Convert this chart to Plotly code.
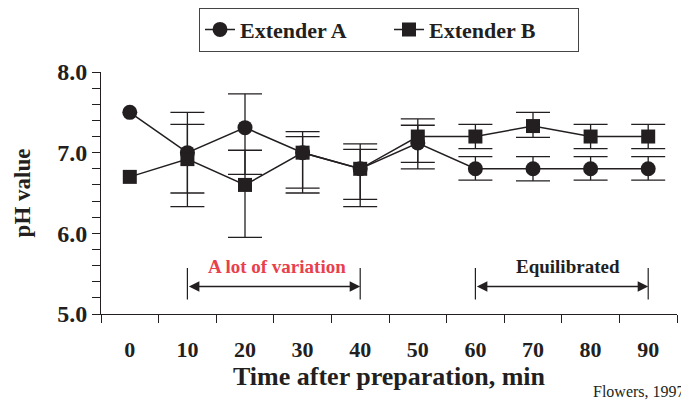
import plotly.graph_objects as go

times = ["0", "10", "20", "30", "40", "50", "60", "70", "80", "90"]

ext_a = [7.5, 7.0, 7.31, 7.0, 6.8, 7.12, 6.8, 6.8, 6.8, 6.8]
ext_a_err_plus = [None, 0.5, 0.42, 0.26, 0.31, 0.22, 0.15, 0.15, 0.15, 0.15]
ext_a_err_minus = [None, 0.5, 0.58, 0.44, 0.38, 0.32, 0.14, 0.15, 0.14, 0.14]

ext_b = [6.7, 6.92, 6.6, 7.0, 6.8, 7.2, 7.2, 7.33, 7.2, 7.2]
ext_b_err_plus = [None, 0.43, 0.43, 0.2, 0.24, 0.22, 0.15, 0.17, 0.15, 0.15]
ext_b_err_minus = [None, 0.59, 0.65, 0.5, 0.47, 0.32, 0.15, 0.14, 0.15, 0.15]

y_tickvals = [5.0, 5.2, 5.4, 5.6, 5.8, 6.0, 6.2, 6.4, 6.6, 6.8, 7.0, 7.2, 7.4, 7.6,
              7.8, 8.0]
y_ticktext = ["5.0", "", "", "", "", "6.0", "", "", "", "", "7.0", "", "", "", "", "8.0"]

INK = "#231f20"
FONT = "Liberation Serif"

fig = go.Figure()


def err_trace(vals, plus, minus):
    idx = [i for i, p in enumerate(plus) if p is not None]
    return go.Scatter(
        x=[times[i] for i in idx],
        y=[vals[i] for i in idx],
        mode="markers",
        marker=dict(size=1, opacity=0),
        showlegend=False,
        hoverinfo="skip",
        error_y=dict(
            type="data",
            symmetric=False,
            array=[plus[i] for i in idx],
            arrayminus=[minus[i] for i in idx],
            color=INK,
            thickness=1.3,
            width=17,
        ),
    )


fig.add_trace(err_trace(ext_a, ext_a_err_plus, ext_a_err_minus))
fig.add_trace(err_trace(ext_b, ext_b_err_plus, ext_b_err_minus))

fig.add_trace(go.Scatter(
    x=times, y=ext_a, name="Extender A", mode="lines+markers",
    line=dict(color=INK, width=1.5),
    marker=dict(symbol="circle", size=15, color=INK),
))
fig.add_trace(go.Scatter(
    x=times, y=ext_b, name="Extender B", mode="lines+markers",
    line=dict(color=INK, width=1.5),
    marker=dict(symbol="square", size=14, color=INK),
))

# bracket arrows
for x0, x1 in [(1, 4), (6, 9)]:
    for xv in (x0, x1):
        fig.add_shape(type="line", xref="x", yref="y", x0=xv, x1=xv, y0=5.18, y1=5.57,
                      line=dict(color=INK, width=1.2))
    fig.add_annotation(x=x1, y=5.34, ax=x0, ay=5.34, xref="x", yref="y",
                       axref="x", ayref="y", text="", showarrow=True,
                       arrowside="end+start", arrowhead=2, arrowsize=1.4,
                       arrowwidth=1.5, arrowcolor=INK, standoff=0, startstandoff=0)

fig.add_annotation(x=2.55, y=5.59, xref="x", yref="y", text="A lot of variation",
                   showarrow=False,
                   font=dict(family=FONT, size=19, color="#e8404c", weight="bold"))
fig.add_annotation(x=7.6, y=5.59, xref="x", yref="y", text="Equilibrated",
                   showarrow=False,
                   font=dict(family=FONT, size=19, color=INK, weight="bold"))
fig.add_annotation(x=1.0174, y=-0.321, xref="paper", yref="paper", text="Flowers, 1997",
                   showarrow=False, xanchor="right", yanchor="middle",
                   font=dict(family=FONT, size=16, color=INK))

# page body adds an 8px offset; size the figure to sit inside the window
fig.update_layout(
    width=681, height=393,
    margin=dict(l=93, r=12, t=64, b=87, autoexpand=False),
    paper_bgcolor="white", plot_bgcolor="white",
    font=dict(family=FONT, color=INK),
    showlegend=True,
    legend=dict(
        orientation="h", x=0.5, xanchor="center", y=1.266, yanchor="top",
        bordercolor="#444", borderwidth=1, bgcolor="white",
        font=dict(family=FONT, size=22, color=INK, weight="bold"),
        itemwidth=30, entrywidth=144, entrywidthmode="pixels",
    ),
    xaxis=dict(
        type="category", categoryorder="array", categoryarray=times,
        range=[-0.5, 9.5], tickson="boundaries", automargin=False,
        ticks="outside", ticklen=8, tickcolor=INK, tickwidth=1,
        showline=True, linecolor=INK, linewidth=1, showgrid=False, zeroline=False,
        tickfont=dict(family=FONT, size=22, color=INK, weight="bold"),
        ticklabelstandoff=16,
        title=dict(text="Time after preparation, min", standoff=0,
                   font=dict(family=FONT, size=26, color=INK, weight="bold")),
    ),
    yaxis=dict(
        range=[5, 8], tickvals=y_tickvals, ticktext=y_ticktext, automargin=False,
        ticks="outside", ticklen=8, tickcolor=INK, tickwidth=1,
        showline=True, linecolor=INK, linewidth=1, showgrid=False, zeroline=False,
        tickfont=dict(family=FONT, size=24, color=INK, weight="bold"),
        title=dict(text="pH value", standoff=20,
                   font=dict(family=FONT, size=23, color=INK, weight="bold")),
    ),
)

fig.write_html("out.html")
